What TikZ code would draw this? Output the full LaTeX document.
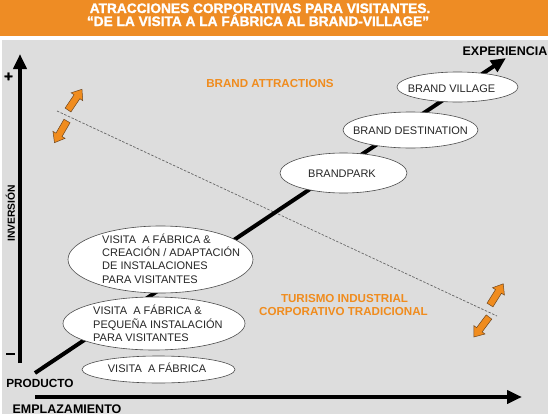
\documentclass[tikz,border=0pt]{standalone}
\usepackage{fontspec}
\setmainfont{Liberation Sans}
\newfontfamily\heavyfont{Liberation Sans}[BoldFeatures={FakeBold=1.5}]
\usetikzlibrary{arrows.meta,shapes.geometric}
\definecolor{hdr}{RGB}{238,140,36}
\definecolor{bg}{RGB}{221,221,221}
\definecolor{orl}{RGB}{240,140,30}
\definecolor{ardark}{RGB}{110,70,30}
\begin{document}
\begin{tikzpicture}[x=1pt,y=-1pt,
  ell/.style={ellipse,draw=black!70,line width=0.6pt,fill=white,inner sep=0pt},
  etext/.style={font=\fontsize{11}{13.2}\selectfont,align=left,inner sep=0pt,text=black!85},
  axis/.style={line width=4pt,-{Triangle[length=15pt,width=13pt]}},
  hdrtxt/.style={font=\heavyfont\bfseries\fontsize{13.7}{15}\selectfont,text=white,inner sep=0pt,anchor=base},
  lbl/.style={inner sep=0pt,anchor=base},
  olbl/.style={font=\bfseries\fontsize{11.6}{13}\selectfont,text=orl,align=center,inner sep=0pt},
  barrowst/.style={fill=orl,draw=ardark,line width=0.5pt,line join=miter},
  barrow/.pic={\path[barrowst] (0,-3.5) -- (16,-3.5) -- (16,-7) -- (25,0) -- (16,7) -- (16,3.5) -- (0,3.5) -- cycle;},
  dashln/.style={draw=black!60,line width=0.7pt,dash pattern=on 2.5pt off 1.5pt}
]
\useasboundingbox (0,0) rectangle (550,418);
\fill[white] (0,0) rectangle (550,418);
\fill[hdr] (0,0) rectangle (548,36);
\fill[bg] (2,40) rectangle (548,414);

% header
\node[hdrtxt] (h1) at (260,13) {ATRACCIONES CORPORATIVAS PARA VISITANTES.};
\node[hdrtxt] (h2) at (258,26) {“DE LA VISITA A LA FÁBRICA AL BRAND-VILLAGE”};

% coordinates
\coordinate (vbot) at (20,363);
\coordinate (vtop) at (20,54);
\coordinate (hleft) at (35,397);
\coordinate (hright) at (522,397);
\coordinate (d0) at (35,373);
\coordinate (d1) at (506,58);
\coordinate (dl) at (57,111);
\coordinate (dr) at (497,316);

% dashed separator
\draw[dashln] (dl) -- (dr);

% diagonal experience line
\draw[axis] (d0) -- (d1);

% ellipses
\node[ell,minimum width=121pt,minimum height=30pt] (e6) at (457.5,87) {};
\node[ell,minimum width=135pt,minimum height=36pt] (e5) at (410.5,130) {};
\node[ell,minimum width=127pt,minimum height=40pt] (e4) at (343.5,173) {};
\node[ell,minimum width=185pt,minimum height=67pt] (e3) at (160.5,259.5) {};
\node[ell,minimum width=182pt,minimum height=53pt] (e2) at (154,323.5) {};
\node[ell,minimum width=153pt,minimum height=27pt] (e1) at (158.5,369.5) {};

% ellipse texts
\node[etext,anchor=base] (t6) at (451.5,92) {BRAND VILLAGE};
\node[etext,anchor=base] (t5) at (410.5,134) {BRAND DESTINATION};
\node[etext,anchor=base] (t4) at (342,177) {BRANDPARK};
\node[etext,anchor=west] (t3) at (102,258.6) {VISITA\ \ A FÁBRICA \&\\CREACIÓN / ADAPTACIÓN\\DE INSTALACIONES\\PARA VISITANTES};
\node[etext,anchor=west] (t2) at (93,323.3) {VISITA\ \ A FÁBRICA \&\\PEQUEÑA INSTALACIÓN\\PARA VISITANTES};
\node[etext,anchor=base] (t1) at (157,372.7) {VISITA\ \ A FÁBRICA};

% axes
\draw[axis] (vbot) -- (vtop);
\draw[axis] (hleft) -- (hright);

% axis labels
\node[lbl,font=\bfseries\fontsize{12.5}{14}\selectfont] (exp) at (505,55) {EXPERIENCIA};
\node[lbl,font=\bfseries\fontsize{11.8}{14}\selectfont] (prod) at (40,387) {PRODUCTO};
\node[lbl,font=\bfseries\fontsize{12.5}{14}\selectfont] (empl) at (67,413) {EMPLAZAMIENTO};
\node[lbl,font=\bfseries\fontsize{10.3}{12}\selectfont,rotate=90] (inv) at (15,213.5) {INVERSIÓN};
\node[inner sep=0pt,font=\heavyfont\bfseries\fontsize{15}{15}\selectfont] (plus) at (8.5,77) {+};
\node[inner sep=0pt] (minus) at (10.5,354) {\rule{9pt}{2.6pt}};

% region labels
\node[olbl,anchor=base] (ba) at (270,87) {BRAND ATTRACTIONS};
\node[olbl,anchor=base] (ti1) at (344.5,302) {TURISMO INDUSTRIAL};
\node[olbl,anchor=base] (ti2) at (343.5,315) {CORPORATIVO TRADICIONAL};

% orange block arrows
\pic[rotate=56] at (68,110) {barrow};
\pic[rotate=240] at (67,121) {barrow};
\pic[rotate=58] at (490,305) {barrow};
\pic[rotate=233] at (489,317) {barrow};
\end{tikzpicture}
\end{document}
